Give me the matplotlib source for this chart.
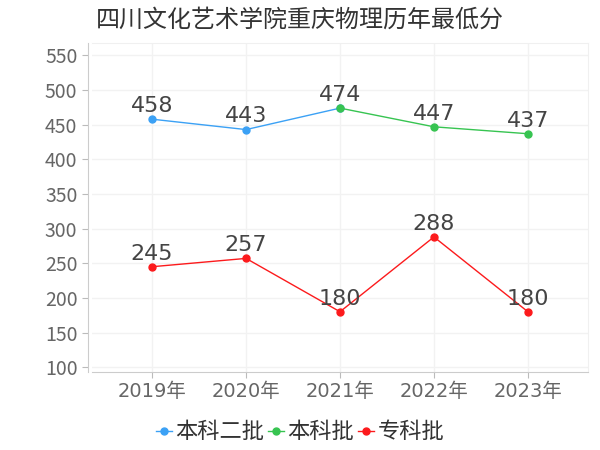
import matplotlib
matplotlib.use("Agg")
import matplotlib.pyplot as plt
import numpy as np

plt.rcParams['font.family'] = ['Noto Sans CJK SC', 'DejaVu Sans']

title = '四川文化艺术学院重庆物理历年最低分'
years = ['2019年', '2020年', '2021年', '2022年', '2023年']
# 本科二批 runs into the 2021 point where 本科批 starts
bk2 = [458, 443, 474, None, None]
bk = [None, None, 474, 447, 437]
zk = [245, 257, 180, 288, 180]
series_names = ['本科二批', '本科批', '专科批']
colors = ['#3ba1f5', '#37c451', '#fc1a1c']

fig = plt.figure(figsize=(6, 4.5), dpi=100)
ax = fig.add_axes([92 / 600, 1 - 372 / 450, (588 - 92) / 600, (372 - 43) / 450])

x = np.arange(len(years))
label_font = ['DejaVu Sans', 'Noto Sans CJK SC']
handles = []
for vals, name, c in zip([bk2, bk, zk], series_names, colors):
    y = np.array([np.nan if v is None else v for v in vals], dtype=float)
    h, = ax.plot(x, y, color=c, lw=1.0, marker='o', ms=5, label=name, zorder=3)
    handles.append(h)

# value labels, the shared 2021 point labelled once
labelled = set()
for vals in [bk2, bk, zk]:
    for i, v in enumerate(vals):
        if v is None or (i, v) in labelled:
            continue
        labelled.add((i, v))
        ax.annotate(str(v), (i, v), xytext=(0, 9.5), textcoords='offset points',
                    ha='center', va='center', fontsize=16, color='#444444',
                    family=label_font, zorder=4)

ax.set_xlim(-0.64, 4.64)
ax.set_ylim(93, 568)
ax.set_xticks(x)
ax.set_xticklabels(years, family=label_font)
ax.set_yticks(np.arange(100, 551, 50))
ax.tick_params(axis='both', labelsize=14, colors='#bbbbbb', labelcolor='#666666', length=4)
for lab in ax.get_yticklabels():
    lab.set_family(label_font)

ax.grid(True, color='#f2f2f2', lw=1)
ax.set_axisbelow(True)
for s in ['top', 'right']:
    ax.spines[s].set_color('#f0f0f0')
ax.spines['left'].set_color('#cccccc')
ax.spines['bottom'].set_color('#cccccc')
ax.spines['left'].set_position(('outward', 3))

fig.text(300 / 600, 1 - 20 / 450, title, ha='center', va='center', fontsize=17.3, color='#333333')

fig.legend(handles=handles, loc='center', bbox_to_anchor=(0.5, 1 - 432 / 450), ncol=3,
           frameon=False, fontsize=16, handlelength=0.7, handletextpad=0.15,
           columnspacing=0.2, labelcolor='#333333')

fig.savefig('out.png', dpi=100)
